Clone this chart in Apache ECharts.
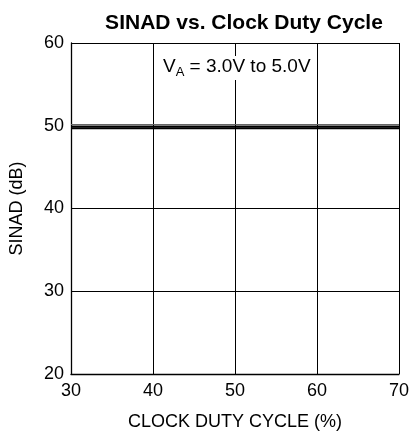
<!DOCTYPE html>
<html>
<head>
<meta charset="utf-8">
<script src="https://cdn.jsdelivr.net/npm/echarts@6/dist/echarts.min.js"></script>
<style>
  html, body { margin: 0; padding: 0; background: #fff; overflow: hidden; }
  #chart { width: 412px; height: 436px; }
</style>
</head>
<body>
<div id="chart"></div>
<script>
// Clock duty cycle (%) sample points
const dutyCycle = [30, 40, 50, 60, 70];
// SINAD (dB) across the supply range
const sinadUpper = [50.15, 50.15, 50.15, 50.15, 50.15];
const sinadMid = [49.9, 49.9, 49.9, 49.9, 49.9];
const sinadLower = [49.7, 49.7, 49.7, 49.7, 49.7];

const xTicks = [30, 40, 50, 60, 70];
const yTicks = [20, 30, 40, 50, 60];

const font = '"Liberation Sans", Arial, sans-serif';
const chart = echarts.init(document.getElementById('chart'), null, { renderer: 'canvas' });

function pairs(ys) { return dutyCycle.map((x, i) => [x, ys[i]]); }

chart.setOption({
  animation: false,
  title: {
    text: 'SINAD vs. Clock Duty Cycle',
    left: 239, top: 8, textAlign: 'center',
    textStyle: { fontFamily: font, fontWeight: 'bold', fontSize: 21, color: '#000' }
  },
  grid: { left: 69, right: 9, top: 43, bottom: 59 },
  xAxis: {
    type: 'value', min: xTicks[0], max: xTicks[xTicks.length - 1], interval: 10,
    name: 'CLOCK DUTY CYCLE (%)', nameLocation: 'middle', nameGap: 39,
    nameTextStyle: { fontFamily: font, fontSize: 18, color: '#000' },
    axisLine: { lineStyle: { color: '#000', width: 1.3 } },
    axisTick: { show: false },
    axisLabel: { fontFamily: font, fontSize: 18, color: '#000', margin: 8 },
    splitLine: { show: true, lineStyle: { color: '#000', width: 1 } }
  },
  yAxis: {
    type: 'value', min: yTicks[0], max: yTicks[yTicks.length - 1], interval: 10,
    name: 'SINAD (dB)', nameLocation: 'middle', nameGap: 45,
    nameTextStyle: { fontFamily: font, fontSize: 18, color: '#000' },
    axisLine: { show: true, lineStyle: { color: '#000', width: 1.3 } },
    axisTick: { show: false },
    axisLabel: { fontFamily: font, fontSize: 18, color: '#000', margin: 7 },
    splitLine: { show: true, lineStyle: { color: '#000', width: 1 } }
  },
  series: [
    { type: 'line', data: pairs(sinadUpper), symbol: 'none', lineStyle: { color: '#666', width: 1.2 }, z: 3 },
    { type: 'line', data: pairs(sinadMid), symbol: 'none', lineStyle: { color: '#000', width: 2 }, z: 4 },
    { type: 'line', data: pairs(sinadLower), symbol: 'none', lineStyle: { color: '#000', width: 2 }, z: 4 }
  ],
  graphic: [{
    type: 'text', left: 160, top: 55, z: 10,
    style: {
      text: '{a|V}{s|A}{a| = 3.0V to 5.0V}',
      backgroundColor: '#fff',
      padding: [1, 3, 1, 3],
      rich: {
        a: { fontFamily: font, fontSize: 19, color: '#000', lineHeight: 22, verticalAlign: 'top' },
        s: { fontFamily: font, fontSize: 13, color: '#000', lineHeight: 22, verticalAlign: 'bottom', padding: [11, 0, 0, 0] }
      }
    }
  }]
});
</script>
</body>
</html>
